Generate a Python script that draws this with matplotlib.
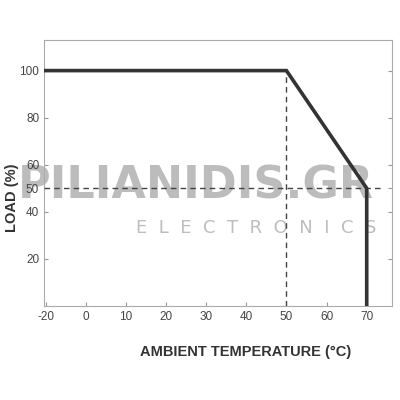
import matplotlib
matplotlib.use("Agg")
import matplotlib.pyplot as plt
import numpy as np

curve_x = [-20, 50, 70, 70]
curve_y = [100, 100, 50, 0]
xticks = [-20, 0, 10, 20, 30, 40, 50, 60, 70]
yticks = [20, 40, 50, 60, 80, 100]
ref_x = 50
ref_y = 50


# piecewise axis: -20..0 takes the same width as 0..10
def fwd(t):
    t = np.asarray(t, dtype=float)
    return np.where(t < 0, 1 + t / 20.0, 1 + t / 10.0)


def inv(p):
    p = np.asarray(p, dtype=float)
    return np.where(p < 1, (p - 1) * 20.0, (p - 1) * 10.0)


fig = plt.figure(figsize=(4, 4), dpi=100)
ax = fig.add_axes([0.11, 0.235, 0.87, 0.665])
ax.set_facecolor("none")
ax.set_xscale("function", functions=(fwd, inv))
ax.set_xlim(-20.8, 76.3)
ax.set_ylim(0, 113)

# watermark (behind the plot)
fig.text(0.49, 0.535, "PILIANIDIS.GR", fontsize=32, fontweight="bold", color="#bcbcbc",
         ha="center", va="center", family="DejaVu Sans", zorder=-1)
fig.text(0.64, 0.43, "  ".join("ELECTRONICS"), fontsize=13, color="#bdbdbd", ha="center", va="center",
         family="DejaVu Sans", zorder=-1)

ax.plot(curve_x, curve_y, color="#333333", lw=2.6, solid_joinstyle="miter", zorder=5)
ax.plot([ref_x, ref_x], [0, 100], color="#444444", lw=1.0, ls=(0, (4, 3)), zorder=4)
ax.plot([-20.8, 73.5], [ref_y, ref_y], color="#444444", lw=1.0, ls=(0, (4, 3)), zorder=4)

ax.set_xticks(xticks)
ax.set_xticklabels([str(v) for v in xticks])
ax.set_xticks([], minor=True)
ax.set_yticks(yticks)
ax.tick_params(direction="in", length=3, color="#999999", labelcolor="#444444",
               labelsize=8.5, right=True, top=False)
for lab in ax.get_xticklabels() + ax.get_yticklabels():
    lab.set_family(["Liberation Sans", "DejaVu Sans"])
for s in ax.spines.values():
    s.set_color("#aaaaaa")
    s.set_linewidth(0.8)

fig.text(0.03, 0.505, "LOAD (%)", rotation=90, fontsize=10.5, fontweight="bold", color="#333333",
         ha="center", va="center", family=["Liberation Sans", "DejaVu Sans"])
fig.text(0.615, 0.12, "AMBIENT TEMPERATURE (°C)", fontsize=10.5, fontweight="bold", color="#333333",
         ha="center", va="center", family=["Liberation Sans", "DejaVu Sans"])

fig.savefig("out.png", dpi=100)
